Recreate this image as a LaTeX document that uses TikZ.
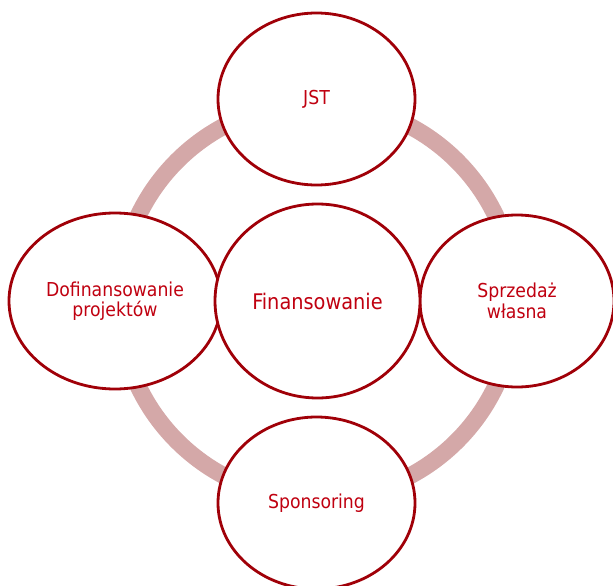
\documentclass[tikz,border=0pt]{standalone}
\usepackage{fontspec}
\setmainfont{DejaVu Sans Condensed}
\usetikzlibrary{shapes.geometric}
\definecolor{ringcol}{HTML}{D4A8A8}
\definecolor{edgecol}{HTML}{A00008}
\definecolor{txtcol}{HTML}{C00010}
\begin{document}
\begin{tikzpicture}[x=1pt,y=-1pt,
  bubble/.style={ellipse,draw=edgecol,line width=2.8pt,fill=white,inner sep=0pt,
    text=txtcol,align=center,font=\fontsize{19.2}{20.5}\selectfont},
  ringstyle/.style={draw=ringcol,line width=17pt}]
\useasboundingbox (0,0) rectangle (613,586);
\clip (0,0) rectangle (613,586);
\coordinate (c) at (317,301);
\draw[ringstyle] (c) circle[radius=198];
\node[bubble,minimum width=197pt,minimum height=172pt] (jst) at (316.5,99) {JST};
\node[bubble,minimum width=212pt,minimum height=176pt] (dof) at (115,301) {Dofinansowanie\\projektów};
\node[bubble,minimum width=194pt,minimum height=172pt] (spw) at (517,301) {Sprzedaż\\własna};
\node[bubble,minimum width=197pt,minimum height=172pt] (spo) at (316.5,503) {Sponsoring};
\node[bubble,minimum width=205pt,minimum height=194pt,font=\fontsize{21.5}{22}\selectfont] (fin) at (317.5,301) {Finansowanie};
\end{tikzpicture}
\end{document}
